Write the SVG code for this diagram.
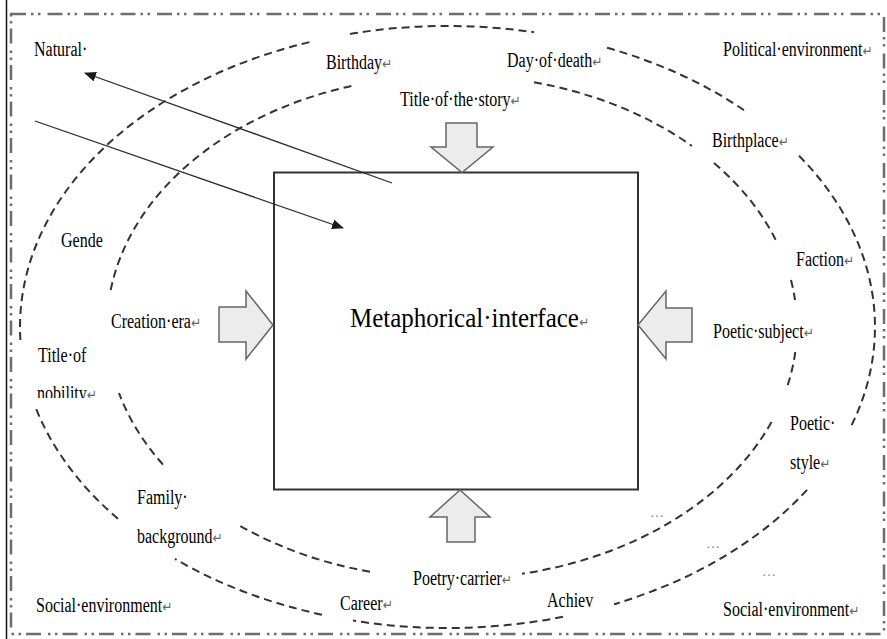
<svg xmlns="http://www.w3.org/2000/svg" width="887" height="639" viewBox="0 0 887 639">
<defs>
<style>
.lbl{font-family:"Liberation Serif","Times New Roman",serif;font-size:16px;fill:#000}
.big{font-family:"Liberation Serif","Times New Roman",serif;font-size:25px;fill:#000}
.pm{font-family:"DejaVu Sans",sans-serif;font-size:12px;fill:#666}
.dots{font-family:"Liberation Serif",serif;font-size:14px;fill:#8a8a8a}
.ring{fill:none;stroke:#333;stroke-width:2;stroke-dasharray:8 5}
.frame{fill:none;stroke:#6e6e6e;stroke-width:2.5;stroke-dasharray:15 5 2.5 4.5 2.5 7}
.block{fill:#ececec;stroke:#666;stroke-width:1.5;stroke-linejoin:miter}
.thin{fill:none;stroke:#2a2a2a;stroke-width:1.3}
</style>
<marker id="ah" viewBox="0 0 12 10" refX="11" refY="5" markerWidth="12" markerHeight="10" markerUnits="userSpaceOnUse" orient="auto">
<path d="M0,0 L12,5 L0,10 Z" fill="#1a1a1a"/>
</marker>
<clipPath id="clipNob"><rect x="30" y="380" width="80" height="18"/></clipPath>
</defs>
<rect width="887" height="639" fill="#fff"/>
<g id="frame">
<line x1="6.5" y1="0" x2="6.5" y2="639" stroke="#111" stroke-width="1.5"/>
<rect class="frame" x="11" y="14" width="873" height="620"/>
</g>
<g id="rings">
<g id="outer-ring">
<path class="ring" d="M20.4,340 A427.5,301 0 0 1 310,42"/>
<path class="ring" d="M350,33.9 A427.5,301 0 0 1 534,32.2"/>
<path class="ring" d="M607,47.7 A427.5,301 0 0 1 747,112.2"/>
<path class="ring" d="M799,155.7 A427.5,301 0 0 1 850.7,427"/>
<path class="ring" d="M807,489.9 A427.5,301 0 0 1 614,604.2"/>
<path class="ring" d="M563,616.8 A427.5,301 0 0 1 353,620.6"/>
<path class="ring" d="M322,614.7 A427.5,301 0 0 1 175,558.9"/>
<path class="ring" d="M118,518.8 A427.5,301 0 0 1 36,408.5"/>
</g>
<g id="inner-ring">
<path class="ring" d="M110.7,290 A345,252 0 0 1 353,85.6"/>
<path class="ring" d="M534,82.2 A345,252 0 0 1 692,146"/>
<path class="ring" d="M714,163 A345,252 0 0 1 777,242.4"/>
<path class="ring" d="M791,280 A345,252 0 0 1 795,300"/>
<path class="ring" d="M795.3,352 A345,252 0 0 1 786,390"/>
<path class="ring" d="M771.5,422 A345,252 0 0 1 522,573.8"/>
<path class="ring" d="M370,571.8 A345,252 0 0 1 237,524.1"/>
<path class="ring" d="M163,464.6 A345,252 0 0 1 119,393"/>
</g>
</g>
<g id="interface">
<rect x="274" y="172.5" width="364" height="317" fill="none" stroke="#333" stroke-width="2"/>
<text class="big" transform="translate(350,327) scale(1,1.1)">Metaphorical·interface<tspan class="pm" font-size="14">↵</tspan></text>
</g>
<g id="connectors">
<line class="thin" x1="392" y1="183" x2="85" y2="73" marker-end="url(#ah)"/>
<line class="thin" x1="35" y1="121" x2="343" y2="228" marker-end="url(#ah)"/>
<polygon class="block" points="446,123 477,123 477,147 493,147 462,172.5 431,147 446,147"/>
<polygon class="block" points="219,307 246,307 246,291 273,325 246,359 246,342 219,342"/>
<polygon class="block" points="692,308 666,308 666,291 638,325 666,359 666,342 692,342"/>
<polygon class="block" points="447,542 447,517 430,517 460,490 490,517 475,517 475,542"/>
</g>
<g id="labels">
<g id="natural"><text class="lbl" transform="translate(34,56) scale(1,1.25)">Natural·</text></g>
<g id="birthday"><text class="lbl" transform="translate(326,69) scale(1,1.25)">Birthday<tspan class="pm">↵</tspan></text></g>
<g id="day-of-death"><text class="lbl" transform="translate(507,67) scale(1,1.25)">Day·of·death<tspan class="pm">↵</tspan></text></g>
<g id="political"><text class="lbl" transform="translate(723,56) scale(1,1.25)">Political·environment<tspan class="pm">↵</tspan></text></g>
<g id="title-story"><text class="lbl" transform="translate(400,106) scale(1,1.25)">Title·of·the·story<tspan class="pm">↵</tspan></text></g>
<g id="birthplace"><text class="lbl" transform="translate(712,147) scale(1,1.25)">Birthplace<tspan class="pm">↵</tspan></text></g>
<g id="gende"><text class="lbl" transform="translate(61,247) scale(1,1.25)">Gende</text></g>
<g id="faction"><text class="lbl" transform="translate(796,266) scale(1,1.25)">Faction<tspan class="pm">↵</tspan></text></g>
<g id="creation-era"><text class="lbl" transform="translate(111,328) scale(1,1.25)">Creation·era<tspan class="pm">↵</tspan></text></g>
<g id="poetic-subject"><text class="lbl" transform="translate(713,338) scale(1,1.25)">Poetic·subject<tspan class="pm">↵</tspan></text></g>
<g id="title-nobility">
<text class="lbl" transform="translate(38,362) scale(1,1.25)">Title·of</text>
<g clip-path="url(#clipNob)"><text class="lbl" transform="translate(37,400) scale(1,1.25)">nobility<tspan class="pm">↵</tspan></text></g>
</g>
<g id="poetic-style">
<text class="lbl" transform="translate(790,430) scale(1,1.25)">Poetic·</text>
<text class="lbl" transform="translate(790,469) scale(1,1.25)">style<tspan class="pm">↵</tspan></text>
</g>
<g id="family-background">
<text class="lbl" transform="translate(137,504) scale(1,1.25)">Family·</text>
<text class="lbl" transform="translate(137,543) scale(1,1.25)">background<tspan class="pm">↵</tspan></text>
</g>
<g id="poetry-carrier"><text class="lbl" transform="translate(413,585) scale(1,1.25)">Poetry·carrier<tspan class="pm">↵</tspan></text></g>
<g id="career"><text class="lbl" transform="translate(340,610) scale(1,1.25)">Career<tspan class="pm">↵</tspan></text></g>
<g id="achiev"><text class="lbl" transform="translate(547,607) scale(1,1.25)">Achiev</text></g>
<g id="social-left"><text class="lbl" transform="translate(36,612) scale(1,1.25)">Social·environment<tspan class="pm">↵</tspan></text></g>
<g id="social-right"><text class="lbl" transform="translate(723,616) scale(1,1.25)">Social·environment<tspan class="pm">↵</tspan></text></g>
<g id="ellipsis">
<text class="dots" x="650" y="517">…</text>
<text class="dots" x="706" y="548">…</text>
<text class="dots" x="762" y="576">…</text>
</g>
</g>
</svg>
